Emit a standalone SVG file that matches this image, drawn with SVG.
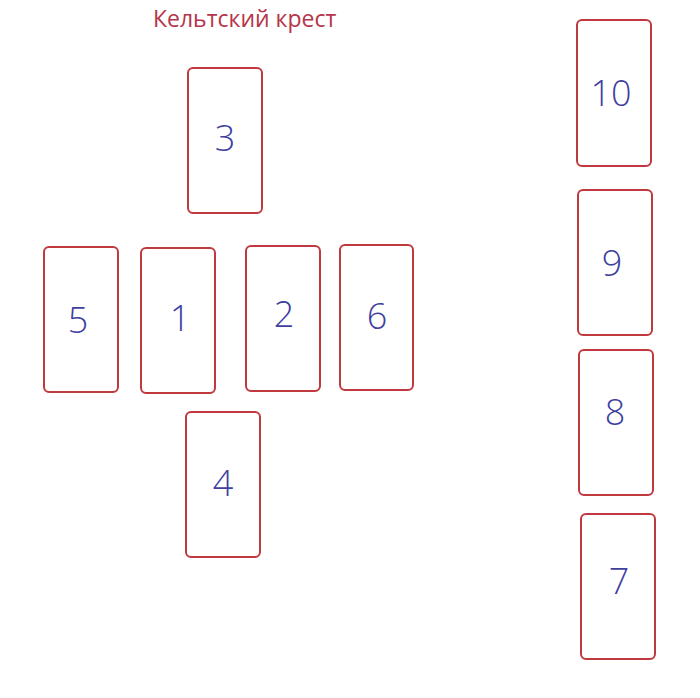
<svg xmlns="http://www.w3.org/2000/svg" width="700" height="698" viewBox="0 0 700 698">
<style>
.card rect{fill:#ffffff;stroke:#c0393f;stroke-width:2}
.card text{font-family:"Open Sans","Liberation Sans",sans-serif;font-size:36px;font-weight:300;fill:#3f3f9f;text-anchor:middle}
.title{font-family:"Open Sans","Liberation Sans",sans-serif;font-size:23px;fill:#b5364a}
</style>
<rect width="700" height="698" fill="#ffffff"/>
<text class="title" x="153" y="27">Кельтский крест</text>
<g id="card3" class="card"><rect x="188" y="68" width="74" height="145" rx="5"/><text x="225" y="151">3</text></g>
<g id="card5" class="card"><rect x="44" y="247" width="74" height="145" rx="5"/><text x="78" y="333">5</text></g>
<g id="card1" class="card"><rect x="141" y="248" width="74" height="145" rx="5"/><text x="180" y="331">1</text></g>
<g id="card2" class="card"><rect x="246" y="246" width="74" height="145" rx="5"/><text x="284" y="327">2</text></g>
<g id="card6" class="card"><rect x="340" y="245" width="73" height="145" rx="5"/><text x="377" y="329">6</text></g>
<g id="card4" class="card"><rect x="186" y="412" width="74" height="145" rx="5"/><text x="223" y="496">4</text></g>
<g id="card10" class="card"><rect x="577" y="20" width="74" height="146" rx="5"/><text x="611" y="106">10</text></g>
<g id="card9" class="card"><rect x="578" y="190" width="74" height="145" rx="5"/><text x="612" y="276">9</text></g>
<g id="card8" class="card"><rect x="579" y="350" width="74" height="145" rx="5"/><text x="615" y="425">8</text></g>
<g id="card7" class="card"><rect x="581" y="514" width="74" height="145" rx="5"/><text x="619" y="594">7</text></g>
<g id="connectors"/>
</svg>
